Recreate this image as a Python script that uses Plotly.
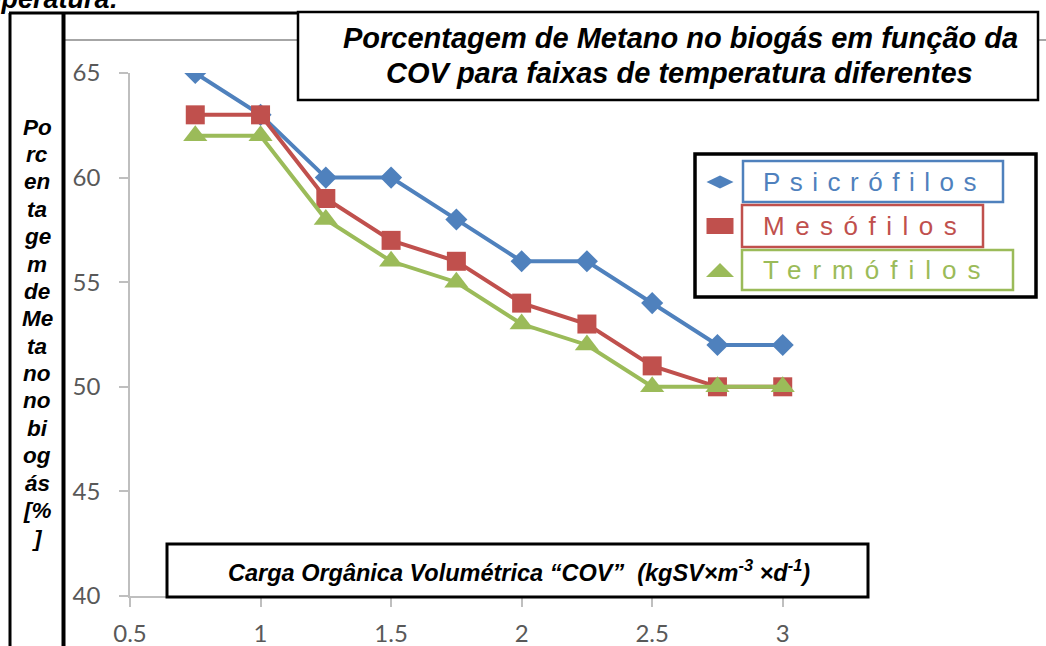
import plotly.graph_objects as go

# ---------------- data ----------------
cov = [0.75, 1.0, 1.25, 1.5, 1.75, 2.0, 2.25, 2.5, 2.75, 3.0]
psicrofilos = [65, 63, 60, 60, 58, 56, 56, 54, 52, 52]
mesofilos = [63, 63, 59, 57, 56, 54, 53, 51, 50, 50]
termofilos = [62, 62, 58, 56, 55, 53, 52, 50, 50, 50]
series_names = ["Psicrófilos", "Mesófilos", "Termófilos"]
x_ticks = [0.5, 1, 1.5, 2, 2.5, 3]
x_tick_labels = ["0.5", "1", "1.5", "2", "2.5", "3"]
y_ticks = [40, 45, 50, 55, 60, 65]
title_lines = ["Porcentagem de Metano no biogás em função da",
               "COV para faixas de temperatura diferentes"]
y_label_chunks = ["Po", "rc", "en", "ta", "ge", "m", "de", "Me", "ta", "no", "no", "bi", "og", "ás", "[%", "]"]
x_label = "Carga Orgânica Volumétrica “COV”  (kgSV×m<sup>-3</sup> ×d<sup>-1</sup>)"

# ---------------- styling ----------------
W, H = 1046, 646
BLUE, RED, GREEN = "#4F81BD", "#C0504D", "#9BBB59"
AX = "#BFBFBF"
TICKFONT = dict(family="Lato, Open Sans, sans-serif", size=24, color="#595959")
BOLDFONT = "Liberation Sans, Arial, sans-serif"


def px(x):
    return x / W


def py(y):
    return 1 - y / H


fig = go.Figure()
styles = [
    (psicrofilos, BLUE, "diamond", 17),
    (mesofilos, RED, "square", 19),
    (termofilos, GREEN, "triangle-up", 21),
]
for name, (vals, col, sym, sz) in zip(series_names, styles):
    fig.add_trace(go.Scatter(
        x=cov, y=vals, name=name, mode="lines+markers",
        line=dict(color=col, width=4),
        marker=dict(symbol=sym, size=sz, color=col, line=dict(width=0)),
        showlegend=False,
    ))

shapes = []
# outer frame lines
shapes.append(dict(type="line", xref="paper", yref="paper", x0=px(10), x1=px(10), y0=py(13), y1=py(660),
                   line=dict(color="black", width=3), layer="above"))
shapes.append(dict(type="line", xref="paper", yref="paper", x0=px(63.5), x1=px(63.5), y0=py(13), y1=py(660),
                   line=dict(color="black", width=4), layer="above"))
shapes.append(dict(type="line", xref="paper", yref="paper", x0=px(9), x1=px(300), y0=py(13), y1=py(13),
                   line=dict(color="black", width=3), layer="above"))
# gray chart-area top line
shapes.append(dict(type="line", xref="paper", yref="paper", x0=px(65), x1=px(1046), y0=py(40), y1=py(40),
                   line=dict(color="#A6A6A6", width=2), layer="below"))
# title box
shapes.append(dict(type="rect", xref="paper", yref="paper", x0=px(298), x1=px(1038), y0=py(100), y1=py(12),
                   line=dict(color="black", width=2.5), fillcolor="white", layer="above"))
# x label box
shapes.append(dict(type="rect", xref="paper", yref="paper", x0=px(167), x1=px(868), y0=py(597), y1=py(544),
                   line=dict(color="black", width=3), fillcolor="white", layer="above"))
# legend box
shapes.append(dict(type="rect", xref="paper", yref="paper", x0=px(695), x1=px(1036), y0=py(297), y1=py(154),
                   line=dict(color="black", width=3.5), fillcolor="white", layer="above"))
leg_boxes = [(743, 1003, 161, 202, BLUE), (742, 983, 205, 247, RED), (742, 1013, 250, 290, GREEN)]
for x0, x1, y0, y1, c in leg_boxes:
    shapes.append(dict(type="rect", xref="paper", yref="paper", x0=px(x0), x1=px(x1), y0=py(y1), y1=py(y0),
                       line=dict(color=c, width=2.5), fillcolor="rgba(0,0,0,0)", layer="above"))


def path(points):
    return "M " + " L ".join(f"{px(a):.5f},{py(b):.5f}" for a, b in points) + " Z"


cx = 720
shapes.append(dict(type="path", xref="paper", yref="paper",
                   path=path([(cx - 13.5, 182), (cx, 175.5), (cx + 13.5, 182), (cx, 188.5)]),
                   fillcolor=BLUE, line=dict(width=0), layer="above"))
shapes.append(dict(type="path", xref="paper", yref="paper",
                   path=path([(cx - 13.5, 218), (cx + 13.5, 218), (cx + 13.5, 234), (cx - 13.5, 234)]),
                   fillcolor=RED, line=dict(width=0), layer="above"))
shapes.append(dict(type="path", xref="paper", yref="paper",
                   path=path([(cx - 14, 277), (cx + 14, 277), (cx, 263)]),
                   fillcolor=GREEN, line=dict(width=0), layer="above"))

annotations = []
TITLEFONT = dict(family=BOLDFONT, size=29, color="black")
annotations.append(dict(xref="paper", yref="paper", x=px(680), y=py(38), text=f"<b><i>{title_lines[0]}</i></b>",
                        showarrow=False, xanchor="center", yanchor="middle", font=TITLEFONT))
annotations.append(dict(xref="paper", yref="paper", x=px(679), y=py(73), text=f"<b><i>{title_lines[1]}</i></b>",
                        showarrow=False, xanchor="center", yanchor="middle", font=TITLEFONT))
# broken y label (as in reference), one line per chunk
for i, ch in enumerate(y_label_chunks):
    annotations.append(dict(xref="paper", yref="paper", x=px(37), y=py(127 + 27.4 * i),
                            text=f"<b><i>{ch}</i></b>",
                            showarrow=False, xanchor="center", yanchor="middle",
                            font=dict(family=BOLDFONT, size=22.5, color="black")))
annotations.append(dict(xref="paper", yref="paper", x=px(519), y=py(571),
                        text=f"<b><i>{x_label}</i></b>",
                        showarrow=False, xanchor="center", yanchor="middle",
                        font=dict(family=BOLDFONT, size=23.5, color="black")))
annotations.append(dict(xref="paper", yref="paper", x=px(121), y=py(-1),
                        text="<b><i>Temperatura:</i></b>",
                        showarrow=False, xanchor="right", yanchor="middle",
                        font=dict(family=BOLDFONT, size=27, color="black")))
leg_y = [182, 226, 270]
leg_sp = [9.5, 10.5, 11]
for name, c, yy, sp in zip(series_names, [BLUE, RED, GREEN], leg_y, leg_sp):
    annotations.append(dict(xref="paper", yref="paper", x=px(761), y=py(yy),
                            text=f'<span style="letter-spacing:{sp}px">{name}</span>',
                            showarrow=False, xanchor="left", yanchor="middle",
                            font=dict(family=BOLDFONT, size=26, color=c)))

fig.update_layout(
    width=W, height=H,
    margin=dict(l=0, r=0, t=0, b=0),
    paper_bgcolor="white", plot_bgcolor="white",
    showlegend=False,
    xaxis=dict(domain=[px(130), px(848)], range=[0.5, 3.25], tickvals=x_ticks, ticktext=x_tick_labels,
               ticks="outside", ticklen=9, tickcolor=AX, tickwidth=1.5, showline=True, linecolor=AX, linewidth=1.5,
               showgrid=False, zeroline=False, tickfont=TICKFONT, automargin=False, ticklabelstandoff=6),
    yaxis=dict(domain=[py(596), py(73)], range=[40, 65], tickvals=y_ticks,
               ticks="outside", ticklen=9, tickcolor=AX, tickwidth=1.5, showline=True, linecolor=AX, linewidth=1.5,
               showgrid=False, zeroline=False, tickfont=TICKFONT, automargin=False, ticklabelstandoff=14),
    shapes=shapes,
    annotations=annotations,
)

fig.write_html("out.html", config={"displayModeBar": False},
               post_script="document.body.style.margin='0';document.body.style.overflow='hidden';")
